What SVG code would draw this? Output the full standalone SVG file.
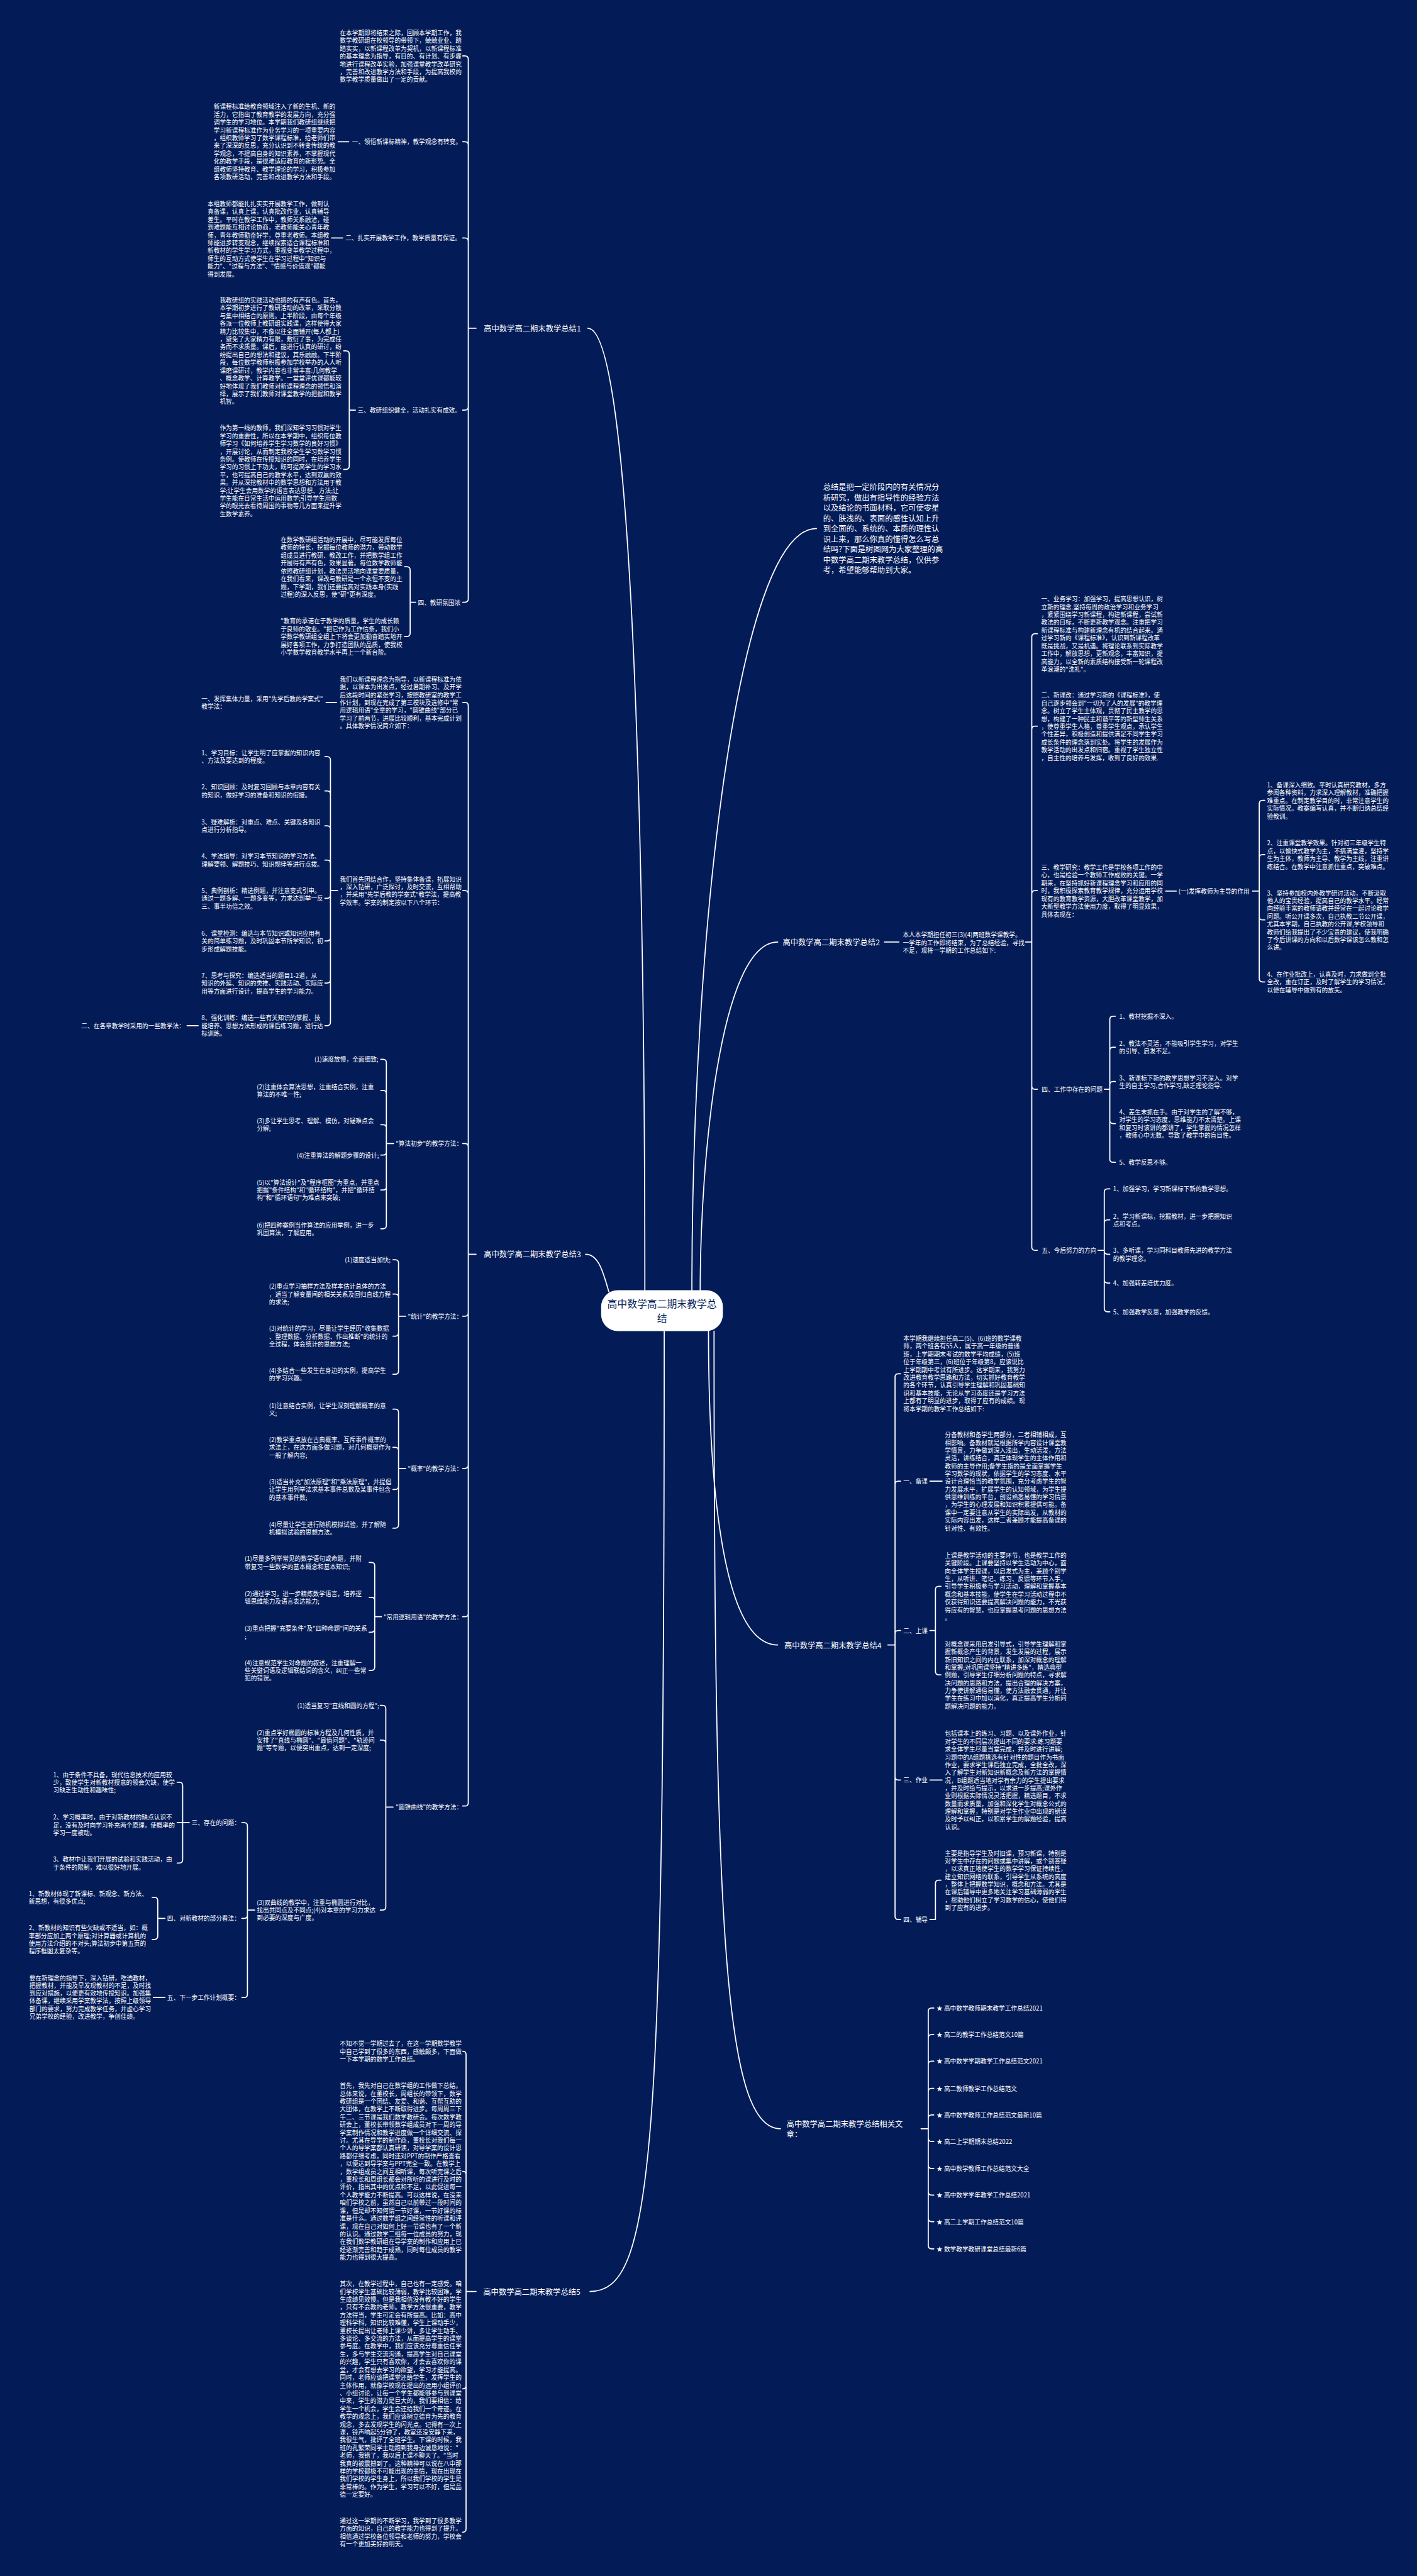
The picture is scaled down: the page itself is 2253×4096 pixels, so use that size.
<svg xmlns="http://www.w3.org/2000/svg" width="2253" height="4096" viewBox="0 0 2253 4096">
<style>
text{font-family:"Noto Sans CJK SC","Noto Sans",sans-serif;fill:#fff;dominant-baseline:central;font-size:11px}
.b{font-size:14px}
.c{font-size:18px;fill:#031c58;text-anchor:middle}
.ln{fill:none;stroke:#fff;stroke-width:2;stroke-linecap:round;stroke-linejoin:round}
</style>
<rect width="2253" height="4096" fill="#031c58"/>
<g transform="scale(0.88008)">
<g id="connectors">
<path class="ln" d="M1062 593C1150 593 1165 1700 1165 2331"/>
<path class="ln" d="M1058 2266C1082 2266 1090 2300 1100 2334"/>
<path class="ln" d="M1066 4140C1180 4140 1200 3900 1200 2405"/>
<path class="ln" d="M1475 955C1330 955 1250 1700 1250 2331"/>
<path class="ln" d="M1405 1702C1300 1702 1265 2100 1265 2331"/>
<path class="ln" d="M1405 2972C1300 2972 1280 2650 1280 2405"/>
<path class="ln" d="M1410 3846C1310 3846 1290 3500 1290 2405"/>
<path class="ln" d="M860 593H846M846 593V107Q846 101 840 101H836M846 593V262Q846 256 840 256H836M846 593V436Q846 430 840 430H836M846 593V735Q846 741 840 741H836M846 593V1082Q846 1088 840 1088H836"/>
<path class="ln" d="M630 256H611M619 430H599"/>
<path class="ln" d="M642 741H631M631 741V640Q631 634 625 634H621M631 741V842Q631 848 625 848H621"/>
<path class="ln" d="M751 1088H741M741 1088V1030Q741 1024 735 1024H731M741 1088V1144Q741 1150 735 1150H731"/>
<path class="ln" d="M860 2266H846M846 2266V1275Q846 1269 840 1269H836M846 2266V1615Q846 1609 840 1609H836M846 2266V2072Q846 2066 840 2066H836M846 2266V2372Q846 2378 840 2378H836M846 2266V2647Q846 2653 840 2653H836M846 2266V2915Q846 2921 840 2921H836M846 2266V3257Q846 3263 840 3263H836"/>
<path class="ln" d="M608 1269H589"/>
<path class="ln" d="M610 1609H597M597 1609V1373Q597 1367 591 1367H587M597 1609V1435Q597 1429 591 1429H587M597 1609V1498Q597 1492 591 1492H587M597 1609V1560Q597 1554 591 1554H587M597 1609V1617Q597 1623 591 1623H587M597 1609V1694Q597 1700 591 1700H587M597 1609V1770Q597 1776 591 1776H587M597 1609V1847Q597 1853 591 1853H587"/>
<path class="ln" d="M358 1853H338"/>
<path class="ln" d="M711 2066H698M698 2066V1920Q698 1914 692 1914H688M698 2066V1976Q698 1970 692 1970H688M698 2066V2038Q698 2032 692 2032H688M698 2066V2081Q698 2087 692 2087H688M698 2066V2144Q698 2150 692 2150H688M698 2066V2214Q698 2220 692 2220H688"/>
<path class="ln" d="M733 2378H720M720 2378V2282Q720 2276 714 2276H710M720 2378V2344Q720 2338 714 2338H710M720 2378V2408Q720 2414 714 2414H710M720 2378V2477Q720 2483 714 2483H710"/>
<path class="ln" d="M733 2653H720M720 2653V2552Q720 2546 714 2546H710M720 2653V2621Q720 2615 714 2615H710M720 2653V2685Q720 2691 714 2691H710M720 2653V2755Q720 2761 714 2761H710"/>
<path class="ln" d="M689 2921H677M677 2921V2829Q677 2823 671 2823H667M677 2921V2892Q677 2886 671 2886H667M677 2921V2943Q677 2949 671 2949H667M677 2921V3012Q677 3018 671 3018H667"/>
<path class="ln" d="M710 3265H697M697 3265V3087Q697 3081 691 3081H687M697 3265V3150Q697 3144 691 3144H687M697 3265V3445Q697 3451 691 3451H687"/>
<path class="ln" d="M460 3451H447M447 3451V3299Q447 3293 441 3293H437M447 3451V3460Q447 3466 441 3466H437M447 3451V3603Q447 3609 441 3609H437"/>
<path class="ln" d="M342 3293H320M330 3293V3226Q330 3220 324 3220H320M330 3293V3360Q330 3366 324 3366H320"/>
<path class="ln" d="M298 3466H285M285 3466V3434Q285 3428 279 3428H275M285 3466V3498Q285 3504 279 3504H275"/>
<path class="ln" d="M298 3609H277"/>
<path class="ln" d="M860 4140H842M842 4140V3712Q842 3706 836 3706M842 4140V3929Q842 3923 836 3923M842 4140V4310Q842 4316 836 4316M842 4140V4569Q842 4575 836 4575"/>
<path class="ln" d="M1598 1702H1624"/>
<path class="ln" d="M1853 1702H1864M1864 1702V1151Q1864 1145 1870 1145H1874M1864 1702V1318Q1864 1312 1870 1312H1874M1864 1702V1615Q1864 1609 1870 1609H1874M1864 1702V1962Q1864 1968 1870 1968H1874M1864 1702V2253Q1864 2259 1870 2259H1874"/>
<path class="ln" d="M2106 1610H2125"/>
<path class="ln" d="M2263 1610H2275M2275 1610V1452Q2275 1446 2281 1446H2285M2275 1610V1550Q2275 1544 2281 1544H2285M2275 1610V1656Q2275 1662 2281 1662H2285M2275 1610V1768Q2275 1774 2281 1774H2285"/>
<path class="ln" d="M1995 1968H2005M2005 1968V1842Q2005 1836 2011 1836H2015M2005 1968V1898Q2005 1892 2011 1892H2015M2005 1968V1960Q2005 1954 2011 1954H2015M2005 1968V2024Q2005 2030 2011 2030H2015M2005 1968V2094Q2005 2100 2011 2100H2015"/>
<path class="ln" d="M1984 2259H1995M1995 2259V2154Q1995 2148 2001 2148H2005M1995 2259V2210Q1995 2204 2001 2204H2005M1995 2259V2260Q1995 2266 2001 2266H2005M1995 2259V2312Q1995 2318 2001 2318H2005M1995 2259V2364Q1995 2370 2001 2370H2005"/>
<path class="ln" d="M1604 2972H1617M1617 2972V2488Q1617 2482 1623 2482H1627M1617 2972V2682Q1617 2676 1623 2676H1627M1617 2972V2952Q1617 2946 1623 2946H1627M1617 2972V3210Q1617 3216 1623 3216H1627M1617 2972V3462Q1617 3468 1623 3468H1627"/>
<path class="ln" d="M1680 2676H1702M1680 3216H1702"/>
<path class="ln" d="M1680 2946H1690M1690 2946V2872Q1690 2866 1696 2866H1700M1690 2946V3020Q1690 3026 1696 3026H1700"/>
<path class="ln" d="M1680 3468H1690M1690 3468V3403Q1690 3397 1696 3397H1700"/>
<path class="ln" d="M1664 3846H1677M1677 3846V3634Q1677 3628 1683 3628H1687M1677 3846V3682Q1677 3676 1683 3676H1687M1677 3846V3730Q1677 3724 1683 3724H1687M1677 3846V3779Q1677 3773 1683 3773H1687M1677 3846V3827Q1677 3821 1683 3821H1687M1677 3846V3863Q1677 3869 1683 3869H1687M1677 3846V3912Q1677 3918 1683 3918H1687M1677 3846V3960Q1677 3966 1683 3966H1687M1677 3846V4008Q1677 4014 1683 4014H1687M1677 3846V4057Q1677 4063 1683 4063H1687"/>
</g>

<g id="center"><rect x="1086" y="2331" width="220" height="74" rx="30" fill="#fff"/><text class="c" x="1196" y="2355">高中数学高二期末教学总</text><text class="c" x="1196" y="2381">结</text></g>

<g id="b1"><text class="b" x="874" y="593">高中数学高二期末教学总结1</text></g>
<g id="b1-p"><text x="614" y="59"><tspan x="614">在本学期即将结束之际，回顾本学期工作，我</tspan><tspan x="614" dy="14.1">数学教研组在校领导的带领下，兢兢业业、踏</tspan><tspan x="614" dy="14.1">踏实实，以新课程改革为契机，以新课程标准</tspan><tspan x="614" dy="14.1">的基本理念为指导，有目的、有计划、有步骤</tspan><tspan x="614" dy="14.1">地进行课程改革实验，加强课堂教学改革研究</tspan><tspan x="614" dy="14.1">，完善和改进教学方法和手段，为提高我校的</tspan><tspan x="614" dy="14.1">数学教学质量做出了一定的贡献。</tspan></text></g>
<g id="b1-1"><text x="636" y="256">一、领悟新课标精神，教学观念有转变。</text></g>
<g id="b1-1a"><text x="386" y="192.5"><tspan x="386">新课程标准给教育领域注入了新的生机、新的</tspan><tspan x="386" dy="14.1">活力，它指出了教育教学的发展方向，充分强</tspan><tspan x="386" dy="14.1">调学生的学习地位。本学期我们教研组继续把</tspan><tspan x="386" dy="14.1">学习新课程标准作为业务学习的一项重要内容</tspan><tspan x="386" dy="14.1">，组织教师学习了数学课程标准，给老师们带</tspan><tspan x="386" dy="14.1">来了深深的反思，充分认识到不转变传统的教</tspan><tspan x="386" dy="14.1">学观念，不提高自身的知识素养，不掌握现代</tspan><tspan x="386" dy="14.1">化的教学手段，是很难适应教育的新形势。全</tspan><tspan x="386" dy="14.1">组教师坚持教育、教学理论的学习，积极参加</tspan><tspan x="386" dy="14.1">各项教研活动，完善和改进教学方法和手段。</tspan></text></g>
<g id="b1-2"><text x="624" y="430">二、扎实开展教学工作，教学质量有保证。</text></g>
<g id="b1-2a"><text x="375" y="368"><tspan x="375">本组教师都能扎扎实实开展教学工作，做到认</tspan><tspan x="375" dy="14.1">真备课，认真上课，认真批改作业，认真辅导</tspan><tspan x="375" dy="14.1">差生。平时在教学工作中，教师关系融洽，碰</tspan><tspan x="375" dy="14.1">到难题能互相讨论协商，老教师能关心青年教</tspan><tspan x="375" dy="14.1">师，青年教师勤奋好学，尊重老教师。本组教</tspan><tspan x="375" dy="14.1">师能进步转变观念，继续探索适合课程标准和</tspan><tspan x="375" dy="14.1">新教材的学生学习方式，重视变革教学过程中，</tspan><tspan x="375" dy="14.1">师生的互动方式使学生在学习过程中"知识与</tspan><tspan x="375" dy="14.1">能力"、"过程与方法"、"情感与价值观"都能</tspan><tspan x="375" dy="14.1">得到发展。</tspan></text></g>
<g id="b1-3"><text x="646" y="741">三、教研组织健全，活动扎实有成效。</text></g>
<g id="b1-3a"><text x="397" y="542"><tspan x="397">我教研组的实践活动也搞的有声有色。首先，</tspan><tspan x="397" dy="14.1">本学期初步进行了教研活动的改革，采取分散</tspan><tspan x="397" dy="14.1">与集中相结合的原则。上半阶段，由每个年级</tspan><tspan x="397" dy="14.1">各派一位教师上教研组实践课，这样使得大家</tspan><tspan x="397" dy="14.1">精力比较集中，不像以往全面铺开(每人都上)</tspan><tspan x="397" dy="14.1">，避免了大家精力有限，敷衍了事，为完成任</tspan><tspan x="397" dy="14.1">务而不求质量。课后，能进行认真的研讨，纷</tspan><tspan x="397" dy="14.1">纷提出自己的想法和建议，其乐融融。下半阶</tspan><tspan x="397" dy="14.1">段，每位数学教师积极参加学校举办的人人听</tspan><tspan x="397" dy="14.1">课磨课研讨，教学内容也非常丰富:几何教学</tspan><tspan x="397" dy="14.1">、概念教学、计算教学。一堂堂评优课都能较</tspan><tspan x="397" dy="14.1">好地体现了我们教师对新课程理念的领悟和演</tspan><tspan x="397" dy="14.1">绎，展示了我们教师对课堂教学的把握和教学</tspan><tspan x="397" dy="14.1">机智。</tspan></text></g>
<g id="b1-3b"><text x="397" y="773"><tspan x="397">作为第一线的教师，我们深知学习习惯对学生</tspan><tspan x="397" dy="14.1">学习的重要性，所以在本学期中，组织每位教</tspan><tspan x="397" dy="14.1">师学习《如何培养学生学习数学的良好习惯》</tspan><tspan x="397" dy="14.1">，开展讨论，从而制定我校学生学习数学习惯</tspan><tspan x="397" dy="14.1">条例。使教师在传授知识的同时，在培养学生</tspan><tspan x="397" dy="14.1">学习的习惯上下功夫，既可提高学生的学习水</tspan><tspan x="397" dy="14.1">平，也可提高自己的教学水平，达到双赢的效</tspan><tspan x="397" dy="14.1">果。并从深挖教材中的数学思想和方法用于教</tspan><tspan x="397" dy="14.1">学;让学生会用数学的语言表达思想、方法;让</tspan><tspan x="397" dy="14.1">学生能在日常生活中运用数学;引导学生用数</tspan><tspan x="397" dy="14.1">学的眼光去看待周围的事物等几方面来提升学</tspan><tspan x="397" dy="14.1">生数学素养。</tspan></text></g>
<g id="b1-4"><text x="755" y="1088">四、教研氛围浓</text></g>
<g id="b1-4a"><text x="507" y="975"><tspan x="507">在数学教研组活动的开展中，尽可能发挥每位</tspan><tspan x="507" dy="14.1">教师的特长，挖掘每位教师的潜力，带动数学</tspan><tspan x="507" dy="14.1">组成员进行教研、教改工作，并把数学组工作</tspan><tspan x="507" dy="14.1">开展得有声有色，效果显著。每位数学教师能</tspan><tspan x="507" dy="14.1">依照教研组计划，教法灵活地向课堂要质量，</tspan><tspan x="507" dy="14.1">在我们看来，课改与教研是一个永恒不变的主</tspan><tspan x="507" dy="14.1">题，下学期，我们还要提高对实践本身(实践</tspan><tspan x="507" dy="14.1">过程)的深入反思，使"研"更有深度。</tspan></text></g>
<g id="b1-4b"><text x="507" y="1122"><tspan x="507">"教育的承诺在于教学的质量，学生的成长赖</tspan><tspan x="507" dy="14.1">于良师的敬业。"把它作为工作信条，我们小</tspan><tspan x="507" dy="14.1">学数学教研组全组上下将会更加勤奋踏实地开</tspan><tspan x="507" dy="14.1">展好各项工作，力争打造团队的品质，使我校</tspan><tspan x="507" dy="14.1">小学数学教育教学水平再上一个新台阶。</tspan></text></g>

<g id="b3"><text class="b" x="874" y="2266">高中数学高二期末教学总结3</text></g>
<g id="b3-m1"><text x="614" y="1227"><tspan x="614">我们以新课程理念为指导，以新课程标准为依</tspan><tspan x="614" dy="14.1">据，以课本为出发点，经过暑期补习、及开学</tspan><tspan x="614" dy="14.1">后这段时间的紧张学习，按照教研室的教学工</tspan><tspan x="614" dy="14.1">作计划，到现在完成了第三模块及选修中"常</tspan><tspan x="614" dy="14.1">用逻辑用语"全章的学习，"圆锥曲线"部分已</tspan><tspan x="614" dy="14.1">学习了前两节，进展比较顺利，基本完成计划</tspan><tspan x="614" dy="14.1">。具体教学情况简介如下：</tspan></text></g>
<g id="b3-m1a"><text x="364" y="1262"><tspan x="364">一、发挥集体力量，采用"先学后教的学案式"</tspan><tspan x="364" dy="14.1">教学法：</tspan></text></g>
<g id="b3-m2"><text x="614" y="1588"><tspan x="614">我们首先团结合作，坚持集体备课，拓展知识</tspan><tspan x="614" dy="14.1">，深入钻研，广泛探讨，及时交流，互相帮助</tspan><tspan x="614" dy="14.1">，并采用"先学后教的学案式"教学法，提高教</tspan><tspan x="614" dy="14.1">学效率。学案的制定按以下八个环节：</tspan></text></g>
<g id="b3-i1"><text x="364" y="1360"><tspan x="364">1、学习目标：让学生明了应掌握的知识内容</tspan><tspan x="364" dy="14.1">、方法及要达到的程度。</tspan></text></g>
<g id="b3-i2"><text x="364" y="1422"><tspan x="364">2、知识回顾：及时复习回顾与本章内容有关</tspan><tspan x="364" dy="14.1">的知识，做好学习的准备和知识的衔接。</tspan></text></g>
<g id="b3-i3"><text x="364" y="1485"><tspan x="364">3、疑难解析：对重点、难点、关键及各知识</tspan><tspan x="364" dy="14.1">点进行分析指导。</tspan></text></g>
<g id="b3-i4"><text x="364" y="1547"><tspan x="364">4、学法指导：对学习本节知识的学习方法、</tspan><tspan x="364" dy="14.1">理解要领、解题技巧、知识规律等进行点拨。</tspan></text></g>
<g id="b3-i5"><text x="364" y="1609"><tspan x="364">5、典例剖析：精选例题，并注意变式引申。</tspan><tspan x="364" dy="14.1">通过一题多解、一题多变等，力求达到举一反</tspan><tspan x="364" dy="14.1">三、事半功倍之效。</tspan></text></g>
<g id="b3-i6"><text x="364" y="1686"><tspan x="364">6、课堂检测：编选与本节知识或知识应用有</tspan><tspan x="364" dy="14.1">关的简单练习题，及时巩固本节所学知识，初</tspan><tspan x="364" dy="14.1">步形成解题技能。</tspan></text></g>
<g id="b3-i7"><text x="364" y="1762"><tspan x="364">7、思考与探究：编选适当的题目1-2道，从</tspan><tspan x="364" dy="14.1">知识的外延、知识的类推、实践活动、实际应</tspan><tspan x="364" dy="14.1">用等方面进行设计，提高学生的学习能力。</tspan></text></g>
<g id="b3-i8"><text x="364" y="1839"><tspan x="364">8、强化训练：编选一些有关知识的掌握、技</tspan><tspan x="364" dy="14.1">能培养、思想方法形成的课后练习题，进行达</tspan><tspan x="364" dy="14.1">标训练。</tspan></text></g>
<g id="b3-i8a"><text x="147" y="1853">二、在各章教学时采用的一些教学法：</text></g>

<g id="g-sf"><text x="715" y="2066">"算法初步"的教学方法：</text></g>
<g id="g-sf1"><text x="568" y="1914">(1)速度放慢，全面细致;</text></g>
<g id="g-sf2"><text x="464" y="1963"><tspan x="464">(2)注重体会算法思想，注重结合实例，注重</tspan><tspan x="464" dy="14">算法的不唯一性;</tspan></text></g>
<g id="g-sf3"><text x="464" y="2025"><tspan x="464">(3)多让学生思考、理解、模仿，对疑难点会</tspan><tspan x="464" dy="14">分解;</tspan></text></g>
<g id="g-sf4"><text x="536" y="2087">(4)注重算法的解题步骤的设计;</text></g>
<g id="g-sf5"><text x="464" y="2136"><tspan x="464">(5)以"算法设计"及"程序框图"为重点，并重点</tspan><tspan x="464" dy="14">把握"条件结构"和"循环结构"，并把"循环结</tspan><tspan x="464" dy="14">构"和"循环语句"为难点来突破;</tspan></text></g>
<g id="g-sf6"><text x="464" y="2213"><tspan x="464">(6)把四种案例当作算法的应用举例，进一步</tspan><tspan x="464" dy="14">巩固算法，了解应用。</tspan></text></g>

<g id="g-tj"><text x="737" y="2378">"统计"的教学方法：</text></g>
<g id="g-tj1"><text x="623" y="2276">(1)速度适当加快;</text></g>
<g id="g-tj2"><text x="486" y="2324"><tspan x="486">(2)重点学习抽样方法及样本估计总体的方法</tspan><tspan x="486" dy="14">，适当了解变量间的相关关系及回归直线方程</tspan><tspan x="486" dy="14">的求法;</tspan></text></g>
<g id="g-tj3"><text x="486" y="2400"><tspan x="486">(3)对统计的学习，尽量让学生经历"收集数据</tspan><tspan x="486" dy="14">、整理数据、分析数据、作出推断"的统计的</tspan><tspan x="486" dy="14">全过程，体会统计的思想方法;</tspan></text></g>
<g id="g-tj4"><text x="486" y="2476"><tspan x="486">(4)多结合一些发生在身边的实例，提高学生</tspan><tspan x="486" dy="14">的学习兴趣。</tspan></text></g>

<g id="g-gl"><text x="737" y="2653">"概率"的教学方法：</text></g>
<g id="g-gl1"><text x="486" y="2539"><tspan x="486">(1)注意结合实例，让学生深刻理解概率的意</tspan><tspan x="486" dy="14">义;</tspan></text></g>
<g id="g-gl2"><text x="486" y="2601"><tspan x="486">(2)教学重点放在古典概率、互斥事件概率的</tspan><tspan x="486" dy="14">求法上，在这方面多做习题，对几何概型作为</tspan><tspan x="486" dy="14">一般了解内容;</tspan></text></g>
<g id="g-gl3"><text x="486" y="2677"><tspan x="486">(3)适当补充"加法原理"和"乘法原理"，并提倡</tspan><tspan x="486" dy="14">让学生用列举法求基本事件总数及某事件包含</tspan><tspan x="486" dy="14">的基本事件数;</tspan></text></g>
<g id="g-gl4"><text x="486" y="2754"><tspan x="486">(4)尽量让学生进行随机模拟试验，并了解随</tspan><tspan x="486" dy="14">机模拟试验的思想方法。</tspan></text></g>

<g id="g-lj"><text x="693" y="2921">"常用逻辑用语"的教学方法：</text></g>
<g id="g-lj1"><text x="442" y="2816"><tspan x="442">(1)尽量多列举常见的数学语句或命题，并附</tspan><tspan x="442" dy="14">带复习一些数学的基本概念和基本知识;</tspan></text></g>
<g id="g-lj2"><text x="442" y="2879"><tspan x="442">(2)通过学习，进一步精炼数学语言，培养逻</tspan><tspan x="442" dy="14">辑思维能力及语言表达能力;</tspan></text></g>
<g id="g-lj3"><text x="442" y="2942"><tspan x="442">(3)重点把握"充要条件"及"四种命题"间的关系</tspan><tspan x="442" dy="14">;</tspan></text></g>
<g id="g-lj4"><text x="442" y="3004"><tspan x="442">(4)注意规范学生对命题的叙述，注重理解一</tspan><tspan x="442" dy="14">些关键词语及逻辑联结词的含义，纠正一些常</tspan><tspan x="442" dy="14">犯的错误。</tspan></text></g>

<g id="g-yz"><text x="715" y="3265">"圆锥曲线"的教学方法：</text></g>
<g id="g-yz1"><text x="537" y="3081">(1)适当复习"直线和圆的方程";</text></g>
<g id="g-yz2"><text x="464" y="3130"><tspan x="464">(2)重点学好椭圆的标准方程及几何性质，并</tspan><tspan x="464" dy="14">安排了"直线与椭圆"、"最值问题"、"轨迹问</tspan><tspan x="464" dy="14">题"等专题，以便突出重点，达到一定深度;</tspan></text></g>
<g id="g-yz3"><text x="464" y="3437"><tspan x="464">(3)双曲线的教学中，注重与椭圆进行对比，</tspan><tspan x="464" dy="14">找出共同点及不同点;(4)对本章的学习力求达</tspan><tspan x="464" dy="14">到必要的深度与广度。</tspan></text></g>

<g id="s3"><text x="346" y="3293">三、存在的问题：</text></g>
<g id="s3-1"><text x="96" y="3206"><tspan x="96">1、由于条件不具备，现代信息技术的应用较</tspan><tspan x="96" dy="14">少，致使学生对新教材授意的领会欠缺，使学</tspan><tspan x="96" dy="14">习缺乏生动性和趣味性;</tspan></text></g>
<g id="s3-2"><text x="96" y="3283"><tspan x="96">2、学习概率时，由于对新教材的缺点认识不</tspan><tspan x="96" dy="14">足，没有及时向学习补充两个原理，使概率的</tspan><tspan x="96" dy="14">学习一度被动。</tspan></text></g>
<g id="s3-3"><text x="96" y="3359"><tspan x="96">3、教材中让我们开展的试验和实践活动，由</tspan><tspan x="96" dy="14">于条件的限制，难以很好地开展。</tspan></text></g>
<g id="s4"><text x="302" y="3466">四、对新教材的部分看法：</text></g>
<g id="s4-1"><text x="52" y="3421"><tspan x="52">1、新教材体现了新课标、新观念、新方法、</tspan><tspan x="52" dy="14">新思想，有很多优点;</tspan></text></g>
<g id="s4-2"><text x="52" y="3483"><tspan x="52">2、新教材的知识有些欠缺或不适当，如：概</tspan><tspan x="52" dy="14">率部分应加上两个原理;对计算器或计算机的</tspan><tspan x="52" dy="14">使用方法介绍的不对头;算法初步中第五页的</tspan><tspan x="52" dy="14">程序框图太复杂等。</tspan></text></g>
<g id="s5"><text x="302" y="3609">五、下一步工作计划概要：</text></g>
<g id="s5-1"><text x="53" y="3573"><tspan x="53">要在新理念的指导下，深入钻研，吃透教材，</tspan><tspan x="53" dy="14">把握教材，并能及早发现教材的不足，及时找</tspan><tspan x="53" dy="14">到应对措施，以便更有效地传授知识。加强集</tspan><tspan x="53" dy="14">体备课，继续采用学案教学法，按照上级领导</tspan><tspan x="53" dy="14">部门的要求，努力完成教学任务，并虚心学习</tspan><tspan x="53" dy="14">兄弟学校的经验，改进教学，争创佳绩。</tspan></text></g>

<g id="b5"><text class="b" x="873" y="4140">高中数学高二期末教学总结5</text></g>
<g id="b5-1"><text x="614" y="3692"><tspan x="614">不知不觉一学期过去了，在这一学期数学教学</tspan><tspan x="614" dy="14.1">中自己学到了很多的东西，感触颇多，下面做</tspan><tspan x="614" dy="14.1">一下本学期的数学工作总结。</tspan></text></g>
<g id="b5-2"><text x="614" y="3768"><tspan x="614">首先，我先对自己在数学组的工作做下总结。</tspan><tspan x="614" dy="14.1">总体来说，在董校长，周组长的带领下，数学</tspan><tspan x="614" dy="14.1">教研组是一个团结、友爱、和谐、互帮互助的</tspan><tspan x="614" dy="14.1">大团体，在教学上不断取得进步。每周周三下</tspan><tspan x="614" dy="14.1">午二、三节课是我们数学教研会。每次数学教</tspan><tspan x="614" dy="14.1">研会上，董校长带领数学组成员对下一周的导</tspan><tspan x="614" dy="14.1">学案制作情况和教学进度做一个详细交流、探</tspan><tspan x="614" dy="14.1">讨。尤其在导学的制作商，董校长对我们每一</tspan><tspan x="614" dy="14.1">个人的导学案都认真研读，对导学案的设计思</tspan><tspan x="614" dy="14.1">路都仔细考虑，同时还对PPT的制作严格查看</tspan><tspan x="614" dy="14.1">，以便达到导学案与PPT完全一致。在教学上</tspan><tspan x="614" dy="14.1">，数学组成员之间互相听课，每次听完课之后</tspan><tspan x="614" dy="14.1">，董校长和周组长都会对所听的课进行及时的</tspan><tspan x="614" dy="14.1">评价，指出其中的优点和不足，以此促进每一</tspan><tspan x="614" dy="14.1">个人教学能力不断提高。可以这样说，在没来</tspan><tspan x="614" dy="14.1">咱们学校之前，虽然自己以前带过一段时间的</tspan><tspan x="614" dy="14.1">课，但是却不知何谓一节好课，一节好课的标</tspan><tspan x="614" dy="14.1">准是什么。通过数学组之间经常性的听课和评</tspan><tspan x="614" dy="14.1">课，现在自己对如何上好一节课也有了一个新</tspan><tspan x="614" dy="14.1">的认识。通过数学二组每一位成员的努力，现</tspan><tspan x="614" dy="14.1">在我们数学教研组在导学案的制作和应用上已</tspan><tspan x="614" dy="14.1">经逐渐完善和趋于成熟，同时每位成员的教学</tspan><tspan x="614" dy="14.1">能力也得到很大提高。</tspan></text></g>
<g id="b5-3"><text x="614" y="4126"><tspan x="614">其次，在教学过程中，自己也有一定感受。咱</tspan><tspan x="614" dy="14.1">们学校学生基础比较薄弱，教学比较困难，学</tspan><tspan x="614" dy="14.1">生成绩见效慢。但是我相信没有教不好的学生</tspan><tspan x="614" dy="14.1">，只有不会教的老师。教学方法很重要，教学</tspan><tspan x="614" dy="14.1">方法得当，学生可定会有所提高。比如：高中</tspan><tspan x="614" dy="14.1">理科学科，知识比较难懂，学生上课动手少，</tspan><tspan x="614" dy="14.1">董校长提出让老师上课少讲，多让学生动手、</tspan><tspan x="614" dy="14.1">多谈论、多交流的方法，从而提高学生的课堂</tspan><tspan x="614" dy="14.1">参与度。在教学中，我们应该充分尊重信任学</tspan><tspan x="614" dy="14.1">生，多与学生交流沟通，提高学生对自己课堂</tspan><tspan x="614" dy="14.1">的兴趣，学生只有喜欢你，才会去喜欢你的课</tspan><tspan x="614" dy="14.1">堂，才会有想去学习的欲望，学习才能提高。</tspan><tspan x="614" dy="14.1">同时，老师应该把课堂还给学生，发挥学生的</tspan><tspan x="614" dy="14.1">主体作用，就像学校现在提出的运用小组评价</tspan><tspan x="614" dy="14.1">、小组讨论，让每一个学生都能够参与到课堂</tspan><tspan x="614" dy="14.1">中来，学生的潜力是巨大的，我们要相信：给</tspan><tspan x="614" dy="14.1">学生一个机会，学生会还给我们一个奇迹。在</tspan><tspan x="614" dy="14.1">教学的观念上，我们应该树立德育为先的教育</tspan><tspan x="614" dy="14.1">观念，多去发现学生的闪光点。记得有一次上</tspan><tspan x="614" dy="14.1">课，铃声响起5分钟了，教室还没安静下来，</tspan><tspan x="614" dy="14.1">我很生气，批评了全班学生。下课的时候，我</tspan><tspan x="614" dy="14.1">班的孔繁荣同学主动跑到我身边诚恳地说："</tspan><tspan x="614" dy="14.1">老师，我错了，我以后上课不聊天了。"当时</tspan><tspan x="614" dy="14.1">我真的被震撼到了。这种精神可以说在八中那</tspan><tspan x="614" dy="14.1">样的学校都极不可能出现的事情，现在出现在</tspan><tspan x="614" dy="14.1">我们学校的学生身上，所以我们学校的学生是</tspan><tspan x="614" dy="14.1">非常棒的。作为学生，学习可以不好，但是品</tspan><tspan x="614" dy="14.1">德一定要好。</tspan></text></g>
<g id="b5-4"><text x="614" y="4554"><tspan x="614">通过这一学期的不断学习，我学到了很多教学</tspan><tspan x="614" dy="14.1">方面的知识，自己的教学能力也得到了提升。</tspan><tspan x="614" dy="14.1">相信通过学校各位领导和老师的努力，学校会</tspan><tspan x="614" dy="14.1">有一个更加美好的明天。</tspan></text></g>

<g id="intro"><text class="b" x="1487" y="880"><tspan x="1487">总结是把一定阶段内的有关情况分</tspan><tspan x="1487" dy="18.75">析研究，做出有指导性的经验方法</tspan><tspan x="1487" dy="18.75">以及结论的书面材料，它可使零星</tspan><tspan x="1487" dy="18.75">的、肤浅的、表面的感性认知上升</tspan><tspan x="1487" dy="18.75">到全面的、系统的、本质的理性认</tspan><tspan x="1487" dy="18.75">识上来，那么你真的懂得怎么写总</tspan><tspan x="1487" dy="18.75">结吗?下面是树图网为大家整理的高</tspan><tspan x="1487" dy="18.75">中数学高二期末教学总结，仅供参</tspan><tspan x="1487" dy="18.75">考，希望能够帮助到大家。</tspan></text></g>

<g id="b2"><text class="b" x="1414" y="1702">高中数学高二期末教学总结2</text></g>
<g id="b2-t"><text x="1631" y="1689"><tspan x="1631">本人本学期担任初三(3)(4)两班数学课教学。</tspan><tspan x="1631" dy="14.1">一学年的工作即将结束，为了总结经验，寻找</tspan><tspan x="1631" dy="14.1">不足，现将一学期的工作总结如下:</tspan></text></g>
<g id="b2-1"><text x="1881" y="1082"><tspan x="1881">一、业务学习：加强学习，提高思想认识，树</tspan><tspan x="1881" dy="14.1">立新的理念.坚持每周的政治学习和业务学习</tspan><tspan x="1881" dy="14.1">，紧紧围绕学习新课程，构建新课程，尝试新</tspan><tspan x="1881" dy="14.1">教法的目标，不断更新教学观念。注重把学习</tspan><tspan x="1881" dy="14.1">新课程标准与构建新理念有机的结合起来。通</tspan><tspan x="1881" dy="14.1">过学习新的《课程标准》，认识到新课程改革</tspan><tspan x="1881" dy="14.1">既是挑战，又是机遇。将理论联系到实际教学</tspan><tspan x="1881" dy="14.1">工作中，解放思想，更新观念，丰富知识，提</tspan><tspan x="1881" dy="14.1">高能力，以全新的素质结构接受新一轮课程改</tspan><tspan x="1881" dy="14.1">革浪潮的"洗礼"。</tspan></text></g>
<g id="b2-2"><text x="1881" y="1256"><tspan x="1881">二、新课改：通过学习新的《课程标准》，使</tspan><tspan x="1881" dy="14.1">自己逐步领会到"一切为了人的发展"的教学理</tspan><tspan x="1881" dy="14.1">念。树立了学生主体观，贯彻了民主教学的思</tspan><tspan x="1881" dy="14.1">想，构建了一种民主和谐平等的新型师生关系</tspan><tspan x="1881" dy="14.1">，使尊重学生人格，尊重学生观点，承认学生</tspan><tspan x="1881" dy="14.1">个性差异，积极创造和提供满足不同学生学习</tspan><tspan x="1881" dy="14.1">成长条件的理念落到实处。将学生的发展作为</tspan><tspan x="1881" dy="14.1">教学活动的出发点和归宿。重视了学生独立性</tspan><tspan x="1881" dy="14.1">，自主性的培养与发挥，收到了良好的效果.</tspan></text></g>
<g id="b2-3"><text x="1881" y="1567"><tspan x="1881">三、教学研究：教学工作是学校各项工作的中</tspan><tspan x="1881" dy="14.1">心，也是检验一个教师工作成败的关键。一学</tspan><tspan x="1881" dy="14.1">期来，在坚持抓好新课程理念学习和应用的同</tspan><tspan x="1881" dy="14.1">时，我积极探索教育教学规律，充分运用学校</tspan><tspan x="1881" dy="14.1">现有的教育教学资源，大胆改革课堂教学，加</tspan><tspan x="1881" dy="14.1">大新型教学方法使用力度，取得了明显效果，</tspan><tspan x="1881" dy="14.1">具体表现在：</tspan></text></g>
<g id="b2-3a"><text x="2129" y="1610">(一)发挥教师为主导的作用</text></g>
<g id="b2-3a1"><text x="2289" y="1418"><tspan x="2289">1、备课深入细致。平时认真研究教材，多方</tspan><tspan x="2289" dy="14.1">参阅各种资料，力求深入理解教材，准确把握</tspan><tspan x="2289" dy="14.1">难重点。在制定教学目的时，非常注意学生的</tspan><tspan x="2289" dy="14.1">实际情况。教案编写认真，并不断归纳总结经</tspan><tspan x="2289" dy="14.1">验教训。</tspan></text></g>
<g id="b2-3a2"><text x="2289" y="1523"><tspan x="2289">2、注重课堂教学效果。针对初三年级学生特</tspan><tspan x="2289" dy="14.1">点，以愉快式教学为主，不搞满堂灌，坚持学</tspan><tspan x="2289" dy="14.1">生为主体，教师为主导、教学为主线，注重讲</tspan><tspan x="2289" dy="14.1">练结合。在教学中注意抓住重点，突破难点。</tspan></text></g>
<g id="b2-3a3"><text x="2289" y="1613"><tspan x="2289">3、坚持参加校内外教学研讨活动，不断汲取</tspan><tspan x="2289" dy="14.1">他人的宝贵经验，提高自己的教学水平。经常</tspan><tspan x="2289" dy="14.1">向经验丰富的教师请教并经常在一起讨论教学</tspan><tspan x="2289" dy="14.1">问题。听公开课多次，自己执教二节公开课，</tspan><tspan x="2289" dy="14.1">尤其本学期，自己执教的公开课,学校领导和</tspan><tspan x="2289" dy="14.1">教师们给我提出了不少宝贵的建议，使我明确</tspan><tspan x="2289" dy="14.1">了今后讲课的方向和以后数学课该怎么教和怎</tspan><tspan x="2289" dy="14.1">么讲。</tspan></text></g>
<g id="b2-3a4"><text x="2289" y="1760"><tspan x="2289">4、在作业批改上，认真及时，力求做到全批</tspan><tspan x="2289" dy="14.1">全改，重在订正，及时了解学生的学习情况，</tspan><tspan x="2289" dy="14.1">以便在辅导中做到有的放矢。</tspan></text></g>
<g id="b2-4"><text x="1882" y="1968">四、工作中存在的问题</text></g>
<g id="b2-4-1"><text x="2022" y="1836">1、教材挖掘不深入。</text></g>
<g id="b2-4-2"><text x="2022" y="1885"><tspan x="2022">2、教法不灵活，不能吸引学生学习，对学生</tspan><tspan x="2022" dy="14.1">的引导、启发不足。</tspan></text></g>
<g id="b2-4-3"><text x="2022" y="1947"><tspan x="2022">3、新课标下新的教学思想学习不深入。对学</tspan><tspan x="2022" dy="14.1">生的自主学习,合作学习,缺乏理论指导.</tspan></text></g>
<g id="b2-4-4"><text x="2022" y="2009"><tspan x="2022">4、差生末抓在手。由于对学生的了解不够，</tspan><tspan x="2022" dy="14.1">对学生的学习态度、思维能力不太清楚。上课</tspan><tspan x="2022" dy="14.1">和复习时该讲的都讲了，学生掌握的情况怎样</tspan><tspan x="2022" dy="14.1">，教师心中无数。导致了教学中的盲目性。</tspan></text></g>
<g id="b2-4-5"><text x="2022" y="2100">5、教学反思不够。</text></g>
<g id="b2-5"><text x="1882" y="2259">五、今后努力的方向</text></g>
<g id="b2-5-1"><text x="2011" y="2148">1、加强学习，学习新课标下新的教学思想。</text></g>
<g id="b2-5-2"><text x="2011" y="2197"><tspan x="2011">2、学习新课标，挖掘教材，进一步把握知识</tspan><tspan x="2011" dy="14.1">点和考点。</tspan></text></g>
<g id="b2-5-3"><text x="2011" y="2259"><tspan x="2011">3、多听课，学习同科目教师先进的教学方法</tspan><tspan x="2011" dy="14.1">的教学理念。</tspan></text></g>
<g id="b2-5-4"><text x="2011" y="2318">4、加强转差培优力度。</text></g>
<g id="b2-5-5"><text x="2011" y="2370">5、加强教学反思，加强教学的反馈。</text></g>

<g id="b4"><text class="b" x="1417" y="2972">高中数学高二期末教学总结4</text></g>
<g id="b4-0"><text x="1632" y="2418"><tspan x="1632">本学期我继续担任高二(5)、(6)班的数学课教</tspan><tspan x="1632" dy="14.1">师，两个班各有55人，属于高一年级的普通</tspan><tspan x="1632" dy="14.1">班，上学期期末考试的数学平均成绩，(5)班</tspan><tspan x="1632" dy="14.1">位于年级第三，(6)班位于年级第8，应该说比</tspan><tspan x="1632" dy="14.1">上学期期中考试有所进步。这学期来，我努力</tspan><tspan x="1632" dy="14.1">改进教育教学思路和方法，切实抓好教育教学</tspan><tspan x="1632" dy="14.1">的各个环节，认真引导学生理解和巩固基础知</tspan><tspan x="1632" dy="14.1">识和基本技能，无论从学习态度还是学习方法</tspan><tspan x="1632" dy="14.1">上都有了明显的进步，取得了应有的成绩。现</tspan><tspan x="1632" dy="14.1">将本学期的教学工作总结如下:</tspan></text></g>
<g id="b4-1"><text x="1632" y="2676">一、备课</text></g>
<g id="b4-1a"><text x="1707" y="2592"><tspan x="1707">分备教材和备学生两部分，二者相辅相成，互</tspan><tspan x="1707" dy="14.05">相影响。备教材就是根据所学内容设计课堂教</tspan><tspan x="1707" dy="14.05">学情景，力争做到深入浅出，生动活泼，方法</tspan><tspan x="1707" dy="14.05">灵活，讲练结合，真正体现学生的主体作用和</tspan><tspan x="1707" dy="14.05">教师的主导作用;备学生指的是全面掌握学生</tspan><tspan x="1707" dy="14.05">学习数学的现状，依据学生的学习态度、水平</tspan><tspan x="1707" dy="14.05">设计合理恰当的教学氛围，充分考虑学生的智</tspan><tspan x="1707" dy="14.05">力发展水平，扩展学生的认知领域，为学生提</tspan><tspan x="1707" dy="14.05">供思维训练的平台，创设熟悉易懂的学习情景</tspan><tspan x="1707" dy="14.05">，为学生的心理发展和知识积累提供可能。备</tspan><tspan x="1707" dy="14.05">课中一定要注意从学生的实际出发，从教材的</tspan><tspan x="1707" dy="14.05">实际内容出发，这样二者兼顾才能提高备课的</tspan><tspan x="1707" dy="14.05">针对性、有效性。</tspan></text></g>
<g id="b4-2"><text x="1632" y="2946">二、上课</text></g>
<g id="b4-2a"><text x="1707" y="2810"><tspan x="1707">上课是教学活动的主要环节，也是教学工作的</tspan><tspan x="1707" dy="14.05">关键阶段。上课要坚持以学生活动为中心，面</tspan><tspan x="1707" dy="14.05">向全体学生授课，以启发式为主，兼顾个别学</tspan><tspan x="1707" dy="14.05">生，从听讲、笔记、练习、反馈等环节入手，</tspan><tspan x="1707" dy="14.05">引导学生积极参与学习活动，理解和掌握基本</tspan><tspan x="1707" dy="14.05">概念和基本技能，使学生在学习活动过程中不</tspan><tspan x="1707" dy="14.05">仅获得知识还要提高解决问题的能力，不光获</tspan><tspan x="1707" dy="14.05">得应有的智慧，也应掌握思考问题的思想方法</tspan><tspan x="1707" dy="14.05">。</tspan></text></g>
<g id="b4-2b"><text x="1707" y="2970"><tspan x="1707">对概念课采用启发引导式，引导学生理解和掌</tspan><tspan x="1707" dy="14.05">握新概念产生的背景，发生发展的过程，展示</tspan><tspan x="1707" dy="14.05">新旧知识之间的内在联系，加深对概念的理解</tspan><tspan x="1707" dy="14.05">和掌握;对巩固课坚持"精讲多练"，精选典型</tspan><tspan x="1707" dy="14.05">例题，引导学生仔细分析问题的特点，寻求解</tspan><tspan x="1707" dy="14.05">决问题的思路和方法，提出合理的解决方案，</tspan><tspan x="1707" dy="14.05">力争使讲解通俗易懂，使方法融会贯通，并让</tspan><tspan x="1707" dy="14.05">学生在练习中加以消化，真正提高学生分析问</tspan><tspan x="1707" dy="14.05">题解决问题的能力。</tspan></text></g>
<g id="b4-3"><text x="1632" y="3216">三、作业</text></g>
<g id="b4-3a"><text x="1707" y="3132"><tspan x="1707">包括课本上的练习、习题、以及课外作业，针</tspan><tspan x="1707" dy="14.05">对学生的不同层次提出不同的要求:练习题要</tspan><tspan x="1707" dy="14.05">求全体学生尽量当堂完成，并及时进行讲解;</tspan><tspan x="1707" dy="14.05">习题中的A组题挑选有针对性的题目作为书面</tspan><tspan x="1707" dy="14.05">作业，要求学生课后独立完成，全批全改，深</tspan><tspan x="1707" dy="14.05">入了解学生对新知识新概念及新方法的掌握情</tspan><tspan x="1707" dy="14.05">况，B组题适当地对学有余力的学生提出要求</tspan><tspan x="1707" dy="14.05">，并及时给与提示，以求进一步提高;课外作</tspan><tspan x="1707" dy="14.05">业则根据实际情况灵活把握，精选题目，不求</tspan><tspan x="1707" dy="14.05">数量而求质量，加强和深化学生对概念公式的</tspan><tspan x="1707" dy="14.05">理解和掌握，特别是对学生作业中出现的错误</tspan><tspan x="1707" dy="14.05">及时予以纠正，以积累学生的解题经验，提高</tspan><tspan x="1707" dy="14.05">认识。</tspan></text></g>
<g id="b4-4"><text x="1632" y="3468">四、辅导</text></g>
<g id="b4-4a"><text x="1707" y="3348"><tspan x="1707">主要是指导学生及时旧课，预习新课，特别是</tspan><tspan x="1707" dy="14.05">对学生中存在的问题或集中讲解，或个别答疑</tspan><tspan x="1707" dy="14.05">，以求真正地使学生的数学学习保证持续性，</tspan><tspan x="1707" dy="14.05">建立知识网络的联系，引导学生从系统的高度</tspan><tspan x="1707" dy="14.05">，整体上把握数学知识，概念和方法。尤其是</tspan><tspan x="1707" dy="14.05">在课后辅导中更多地关注学习基础薄弱的学生</tspan><tspan x="1707" dy="14.05">，帮助他们树立了学习数学的信心，使他们得</tspan><tspan x="1707" dy="14.05">到了应有的进步。</tspan></text></g>

<g id="rel"><text class="b" x="1421" y="3837"><tspan x="1421">高中数学高二期末教学总结相关文</tspan><tspan x="1421" dy="18.3">章：</tspan></text></g>
<g id="rel-1"><text x="1692" y="3628">★ 高中数学教师期末教学工作总结2021</text></g>
<g id="rel-2"><text x="1692" y="3676">★ 高二的教学工作总结范文10篇</text></g>
<g id="rel-3"><text x="1692" y="3724">★ 高中数学学期教学工作总结范文2021</text></g>
<g id="rel-4"><text x="1692" y="3773">★ 高二教师教学工作总结范文</text></g>
<g id="rel-5"><text x="1692" y="3821">★ 高中数学教师工作总结范文最新10篇</text></g>
<g id="rel-6"><text x="1692" y="3869">★ 高二上学期期末总结2022</text></g>
<g id="rel-7"><text x="1692" y="3918">★ 高中数学教师工作总结范文大全</text></g>
<g id="rel-8"><text x="1692" y="3966">★ 高中数学学年教学工作总结2021</text></g>
<g id="rel-9"><text x="1692" y="4014">★ 高二上学期工作总结范文10篇</text></g>
<g id="rel-10"><text x="1692" y="4063">★ 数学教学教研课堂总结最新6篇</text></g>
</g>
</svg>
